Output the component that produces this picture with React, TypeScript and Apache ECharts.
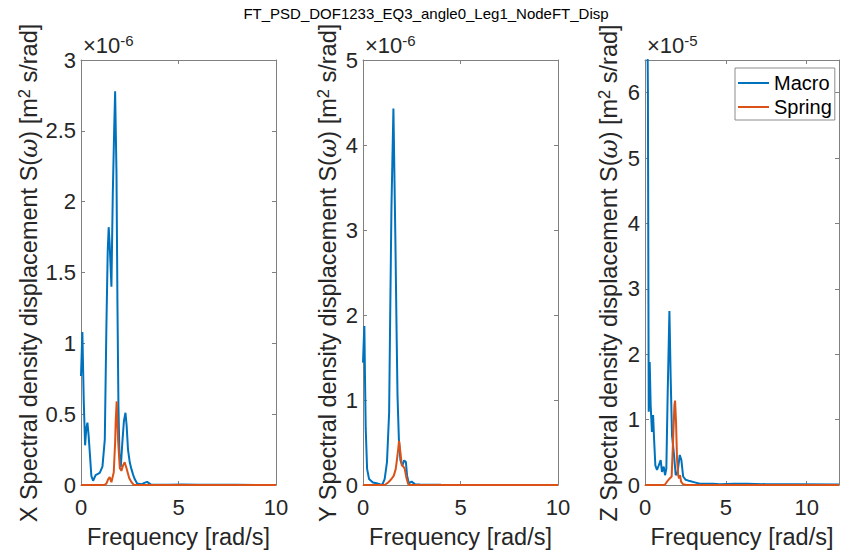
import React, { useEffect, useRef } from "react";
import * as echarts from "echarts";

const TITLE = "FT_PSD_DOF1233_EQ3_angle0_Leg1_NodeFT_Disp";
const SERIES_NAMES = ["Macro", "Spring"];
const AXIS_PREFIX = ["X", "Y", "Z"];
const X_MAX = [10, 10, 12];
const X_INTERVAL = [5, 5, 5];
const Y_MAX = [3, 5, 6.5];
const Y_INTERVAL = [0.5, 1, 1];
const EXPONENT = ["-6", "-6", "-5"];
const X_NAME = "Frequency [rad/s]";

// values in units of 10^EXPONENT
const xMacro = [
  [0, 0.77], [0.07, 1.08], [0.14, 0.6], [0.21, 0.28], [0.27, 0.4], [0.33, 0.44], [0.39, 0.35],
  [0.45, 0.23], [0.53, 0.065], [0.62, 0.03], [0.75, 0.07], [0.96, 0.085], [1.1, 0.13], [1.22, 0.32],
  [1.3, 1.1], [1.37, 1.65], [1.42, 1.82], [1.47, 1.7], [1.56, 1.4], [1.63, 2.05], [1.7, 2.5],
  [1.75, 2.78], [1.82, 2.2], [1.87, 1.26], [1.92, 0.56], [1.97, 0.22], [2.04, 0.125], [2.12, 0.3],
  [2.2, 0.45], [2.28, 0.51], [2.34, 0.42], [2.41, 0.25], [2.5, 0.16], [2.59, 0.11], [2.68, 0.07],
  [2.76, 0.04], [2.88, 0.01], [3.1, 0.005], [3.25, 0.015], [3.39, 0.022], [3.5, 0.012], [3.61, 0.002],
  [4.5, 0.002], [5.2, 0.004], [6, 0.001], [8, 0.001], [10, 0.0005],
];
const xSpring = [
  [0, 0], [1.2, 0], [1.3, 0.01], [1.39, 0.04], [1.47, 0.055], [1.56, 0.02], [1.68, 0.09], [1.75, 0.3],
  [1.78, 0.45], [1.83, 0.59], [1.9, 0.32], [1.99, 0.12], [2.07, 0.1], [2.16, 0.14], [2.24, 0.16],
  [2.33, 0.12], [2.47, 0.05], [2.59, 0.02], [2.71, 0], [10, 0],
];
const yMacro = [
  [0, 1.44], [0.04, 1.7], [0.07, 1.87], [0.1, 1.3], [0.14, 0.66], [0.21, 0.19], [0.31, 0.07],
  [0.51, 0.03], [0.69, 0.02], [0.86, 0.01], [0.99, 0.005], [1.11, 0.07], [1.23, 0.27], [1.34, 0.85],
  [1.39, 1.9], [1.46, 3.28], [1.56, 4.43], [1.66, 2.9], [1.72, 1.84], [1.77, 1.05], [1.84, 0.54],
  [1.92, 0.29], [2.02, 0.23], [2.11, 0.29], [2.2, 0.27], [2.26, 0.11], [2.35, 0.02], [2.49, 0.04],
  [2.66, 0.01], [2.92, 0.005], [4, 0.002], [6, 0.001], [10, 0.0005],
];
const ySpring = [
  [0, 0], [1.11, 0], [1.29, 0.03], [1.46, 0.07], [1.58, 0.11], [1.68, 0.19], [1.77, 0.35], [1.85, 0.52],
  [1.92, 0.38], [1.99, 0.23], [2.06, 0.22], [2.14, 0.19], [2.23, 0.08], [2.32, 0.01], [2.4, 0], [10, 0],
];
const zMacro = [
  [0, 9], [0.12, 8], [0.18, 6], [0.21, 3], [0.23, 1.12], [0.29, 1.88], [0.35, 1.22], [0.43, 0.81],
  [0.5, 1.07], [0.56, 0.71], [0.64, 0.3], [0.74, 0.23], [0.85, 0.3], [0.97, 0.38], [1.05, 0.2],
  [1.16, 0.28], [1.24, 0.15], [1.32, 0.25], [1.4, 1.37], [1.51, 2.66], [1.59, 1.62], [1.67, 0.76],
  [1.78, 0.5], [1.9, 0.15], [2.02, 0.2], [2.15, 0.46], [2.25, 0.38], [2.36, 0.13], [2.52, 0.08],
  [2.77, 0.06], [3.08, 0.04], [3.39, 0.02], [4.21, 0.02], [4.63, 0.01], [5.5, 0.018], [6.28, 0.02],
  [7.52, 0.012], [9.38, 0.01], [12, 0.008],
];
const zSpring = [
  [0, 0], [1.22, 0], [1.36, 0.05], [1.53, 0.1], [1.65, 0.13], [1.74, 0.71], [1.82, 1.22], [1.86, 1.29],
  [1.92, 0.96], [1.98, 0.41], [2.05, 0.15], [2.11, 0.1], [2.17, 0.15], [2.23, 0.05], [2.36, 0.01],
  [2.56, 0], [12, 0],
];
const PANEL_DATA = [
  [xMacro, xSpring],
  [yMacro, ySpring],
  [zMacro, zSpring],
];

const COLORS = ["#0072BD", "#D95319"];
const FONT = "'Liberation Sans', Arial, Helvetica, sans-serif";
const AXIS_COLOR = "#808080";
const TEXT_COLOR = "#262626";

const GRID_LEFT = [81, 363, 645];
const GRID_WIDTH = [195, 195, 194];
const GRID_TOP = 60;
const GRID_HEIGHT = 426;
const YLABEL_X = [29, 328, 609];

function onTick(v: number, step: number) {
  const r = v / step;
  return Math.abs(r - Math.round(r)) < 1e-6;
}

export default function App() {
  const ref = useRef<HTMLDivElement>(null);
  useEffect(() => {
    if (!ref.current) return;
    const chart = echarts.init(ref.current, undefined, { renderer: "svg" });
    const grids: any[] = [];
    const xAxes: any[] = [];
    const yAxes: any[] = [];
    const series: any[] = [];
    const graphics: any[] = [];
    for (let i = 0; i < 3; i++) {
      grids.push({ left: GRID_LEFT[i], top: GRID_TOP, width: GRID_WIDTH[i], height: GRID_HEIGHT, containLabel: false });
      const line = { show: true, onZero: false, lineStyle: { color: AXIS_COLOR, width: 1 } };
      const tick = { show: true, inside: true, length: 4, lineStyle: { color: AXIS_COLOR, width: 1 } };
      xAxes.push({
        type: "value", gridIndex: i, position: "bottom", min: 0, max: X_MAX[i], interval: X_INTERVAL[i],
        axisLine: line, axisTick: tick, splitLine: { show: false },
        axisLabel: {
          margin: 11, fontSize: 22, color: TEXT_COLOR, fontFamily: FONT,
          formatter: (v: number) => (onTick(v, X_INTERVAL[i]) ? String(v) : ""),
        },
        name: X_NAME, nameLocation: "middle", nameGap: 40,
        nameTextStyle: { fontSize: 23.5, color: TEXT_COLOR, fontFamily: FONT },
      });
      xAxes.push({
        type: "value", gridIndex: i, position: "top", min: 0, max: X_MAX[i], interval: X_INTERVAL[i],
        axisLine: line, axisTick: tick, splitLine: { show: false }, axisLabel: { show: false },
      });
      yAxes.push({
        type: "value", gridIndex: i, position: "left", min: 0, max: Y_MAX[i], interval: Y_INTERVAL[i],
        axisLine: line, axisTick: tick, splitLine: { show: false },
        axisLabel: {
          margin: 5, fontSize: 22, color: TEXT_COLOR, fontFamily: FONT,
          formatter: (v: number) => (onTick(v, Y_INTERVAL[i]) ? String(v) : ""),
        },
      });
      yAxes.push({
        type: "value", gridIndex: i, position: "right", min: 0, max: Y_MAX[i], interval: Y_INTERVAL[i],
        axisLine: line, axisTick: tick, splitLine: { show: false }, axisLabel: { show: false },
      });
      for (let s = 0; s < 2; s++) {
        series.push({
          type: "line", name: SERIES_NAMES[s], xAxisIndex: 2 * i, yAxisIndex: 2 * i,
          data: PANEL_DATA[i][s], showSymbol: false, symbol: "none", clip: true,
          lineStyle: { color: COLORS[s], width: 2 }, itemStyle: { color: COLORS[s] },
          z: 2 + s,
        });
      }
      graphics.push({
        type: "text", x: GRID_LEFT[i] + 2, y: 57,
        style: {
          text: `{a|×10}{b|${EXPONENT[i]}}`,
          textAlign: "left", align: "left", textVerticalAlign: "bottom", verticalAlign: "bottom",
          rich: {
            a: { fontSize: 22, lineHeight: 24, fontFamily: FONT, fill: TEXT_COLOR, color: TEXT_COLOR },
            b: { fontSize: 15, lineHeight: 15, verticalAlign: "top", fontFamily: FONT, fill: TEXT_COLOR, color: TEXT_COLOR },
          },
        },
      });
      graphics.push({
        type: "text", x: YLABEL_X[i], y: 273, rotation: Math.PI / 2,
        style: {
          text: `{n|${AXIS_PREFIX[i]} Spectral density displacement S(}{w|ω}{n|) [m}{s|2}{n| s/rad]}`,
          textAlign: "center", align: "center", textVerticalAlign: "middle", verticalAlign: "middle",
          rich: {
            n: { fontSize: 23.5, lineHeight: 28, fontFamily: FONT, fill: TEXT_COLOR, color: TEXT_COLOR },
            w: { fontSize: 23.5, lineHeight: 28, fontStyle: "italic", fontFamily: "'DejaVu Serif', serif", fill: TEXT_COLOR, color: TEXT_COLOR },
            s: { fontSize: 16.5, lineHeight: 16.5, verticalAlign: "top", fontFamily: FONT, fill: TEXT_COLOR, color: TEXT_COLOR },
          },
        },
      });
    }
    graphics.push({
      type: "text", x: 426, y: 13,
      style: {
        text: TITLE, fontSize: 15, fontFamily: FONT, fill: "#000",
        textAlign: "center", align: "center", textVerticalAlign: "middle", verticalAlign: "middle",
      },
    });
    chart.setOption({
      animation: false,
      backgroundColor: "#ffffff",
      grid: grids,
      xAxis: xAxes,
      yAxis: yAxes,
      series,
      graphic: graphics,
      legend: {
        data: SERIES_NAMES, orient: "vertical", left: 735, top: 68,
        icon: "rect", itemWidth: 31, itemHeight: 2, itemGap: 4, itemTextGap: 2,
        padding: [5, 3, 3, 3], backgroundColor: "#ffffff", borderColor: "#8c8c8c", borderWidth: 1,
        borderRadius: 0, selectedMode: false,
        textStyle: { fontSize: 20, color: "#000", fontFamily: FONT },
      },
    });
    return () => chart.dispose();
  }, []);
  return <div ref={ref} style={{ position: "fixed", left: 0, top: 0, width: 843, height: 554 }} />;
}
